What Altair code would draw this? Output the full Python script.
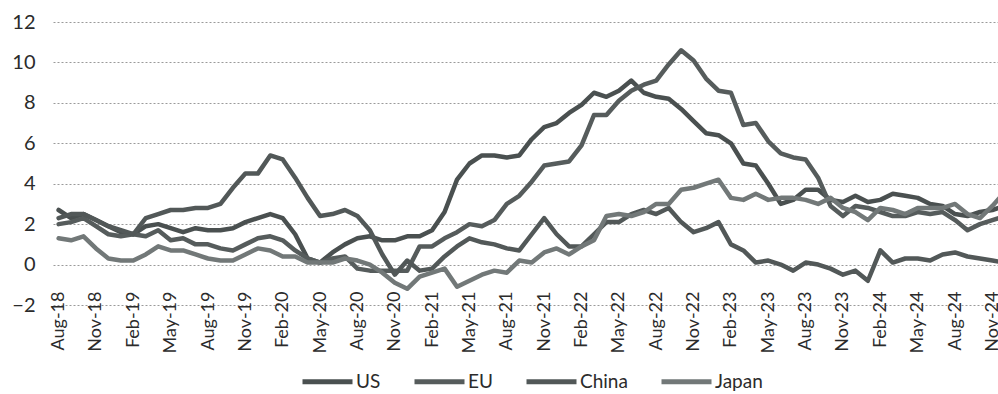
import altair as alt
import pandas as pd

# Monthly year-on-year consumer price inflation, %, Aug-2018 .. Dec-2024
start = "2018-08-01"
series_names = ["US", "EU", "China", "Japan"]

us = [2.7, 2.3, 2.5, 2.2, 1.9,
      1.6, 1.5, 1.9, 2.0, 1.8, 1.6, 1.8, 1.7, 1.7, 1.8, 2.1, 2.3,
      2.5, 2.3, 1.5, 0.3, 0.1, 0.6, 1.0, 1.3, 1.4, 1.2, 1.2, 1.4,
      1.4, 1.7, 2.6, 4.2, 5.0, 5.4, 5.4, 5.3, 5.4, 6.2, 6.8, 7.0,
      7.5, 7.9, 8.5, 8.3, 8.6, 9.1, 8.5, 8.3, 8.2, 7.7, 7.1, 6.5,
      6.4, 6.0, 5.0, 4.9, 4.0, 3.0, 3.2, 3.7, 3.7, 3.2, 3.1, 3.4,
      3.1, 3.2, 3.5, 3.4, 3.3, 3.0, 2.9, 2.5, 2.4, 2.6, 2.7, 2.9]

eu = [2.0, 2.1, 2.3, 1.9, 1.5,
      1.4, 1.5, 1.4, 1.7, 1.2, 1.3, 1.0, 1.0, 0.8, 0.7, 1.0, 1.3,
      1.4, 1.2, 0.7, 0.3, 0.1, 0.3, 0.4, -0.2, -0.3, -0.3, -0.3, -0.3,
      0.9, 0.9, 1.3, 1.6, 2.0, 1.9, 2.2, 3.0, 3.4, 4.1, 4.9, 5.0,
      5.1, 5.9, 7.4, 7.4, 8.1, 8.6, 8.9, 9.1, 9.9, 10.6, 10.1, 9.2,
      8.6, 8.5, 6.9, 7.0, 6.1, 5.5, 5.3, 5.2, 4.3, 2.9, 2.4, 2.9,
      2.8, 2.6, 2.4, 2.4, 2.6, 2.5, 2.6, 2.2, 1.7, 2.0, 2.2, 2.4]

china = [2.3, 2.5, 2.5, 2.2, 1.9,
         1.7, 1.5, 2.3, 2.5, 2.7, 2.7, 2.8, 2.8, 3.0, 3.8, 4.5, 4.5,
         5.4, 5.2, 4.3, 3.3, 2.4, 2.5, 2.7, 2.4, 1.7, 0.5, -0.5, 0.2,
         -0.3, -0.2, 0.4, 0.9, 1.3, 1.1, 1.0, 0.8, 0.7, 1.5, 2.3, 1.5,
         0.9, 0.9, 1.5, 2.1, 2.1, 2.5, 2.7, 2.5, 2.8, 2.1, 1.6, 1.8,
         2.1, 1.0, 0.7, 0.1, 0.2, 0.0, -0.3, 0.1, 0.0, -0.2, -0.5, -0.3,
         -0.8, 0.7, 0.1, 0.3, 0.3, 0.2, 0.5, 0.6, 0.4, 0.3, 0.2, 0.1]

japan = [1.3, 1.2, 1.4, 0.8, 0.3,
         0.2, 0.2, 0.5, 0.9, 0.7, 0.7, 0.5, 0.3, 0.2, 0.2, 0.5, 0.8,
         0.7, 0.4, 0.4, 0.1, 0.1, 0.1, 0.3, 0.2, 0.0, -0.4, -0.9, -1.2,
         -0.6, -0.4, -0.2, -1.1, -0.8, -0.5, -0.3, -0.4, 0.2, 0.1, 0.6, 0.8,
         0.5, 0.9, 1.2, 2.4, 2.5, 2.4, 2.6, 3.0, 3.0, 3.7, 3.8, 4.0,
         4.2, 3.3, 3.2, 3.5, 3.2, 3.3, 3.3, 3.2, 3.0, 3.3, 2.8, 2.6,
         2.2, 2.8, 2.7, 2.5, 2.8, 2.8, 2.8, 3.0, 2.5, 2.3, 2.9, 3.6]

series_colors = ["#4a5050", "#565c5c", "#525858", "#727878"]

months = pd.date_range(start, periods=len(us), freq="MS")
month_labels = [m.strftime("%b-%y") for m in months]
tick_index = list(range(0, len(us), 3))
y_ticks = list(range(-2, 13, 2))

rows = []
for name, values in zip(series_names, [us, eu, china, japan]):
    for i, v in enumerate(values):
        rows.append({"i": i, "value": v, "series": name})
df = pd.DataFrame(rows)

label_array = "[" + ",".join("'" + s + "'" for s in month_labels) + "]"

font = "Lato"
text_color = "#2b2b2b"

chart = alt.Chart(df).mark_line(
    strokeWidth=4.5, strokeJoin="round", strokeCap="round", clip=True
).encode(
    x=alt.X(
        "i:Q",
        scale=alt.Scale(domain=[-0.45, 75.45], nice=False, zero=False),
        axis=alt.Axis(
            values=tick_index,
            labelExpr=label_array + "[datum.value]",
            labelAngle=-90,
            labelFontSize=18,
            labelFont=font,
            labelColor=text_color,
            labelPadding=26,
            offset=-40,
            domain=False,
            ticks=False,
            grid=False,
            title=None,
            labelOverlap=False,
        ),
    ),
    y=alt.Y(
        "value:Q",
        scale=alt.Scale(domain=[-2, 12], nice=False, zero=False),
        axis=alt.Axis(
            values=y_ticks,
            labelFontSize=20,
            labelFont=font,
            labelColor=text_color,
            labelPadding=18,
            domain=False,
            ticks=False,
            grid=True,
            gridColor="#9a9a9a",
            gridDash=[2, 2],
            gridWidth=1,
            title=None,
        ),
    ),
    color=alt.Color(
        "series:N",
        scale=alt.Scale(domain=series_names, range=series_colors),
        legend=alt.Legend(
            title=None,
            orient="none",
            direction="horizontal",
            legendX=247,
            legendY=332,
            symbolType="stroke",
            symbolSize=2500,
            symbolStrokeWidth=5,
            labelFont=font,
            labelFontSize=19,
            labelColor=text_color,
            labelOffset=1,
            columnPadding=23,
            padding=0,
        ),
    ),
    order=alt.Order("i:Q"),
).properties(
    width=945,
    height=283,
    autosize=alt.AutoSizeParams(type="none"),
    padding={"left": 53, "top": 22, "right": 0, "bottom": 89},
    background="white",
).configure_view(stroke=None)

chart.save("out.html", embed_options={"renderer": "svg", "actions": False})
